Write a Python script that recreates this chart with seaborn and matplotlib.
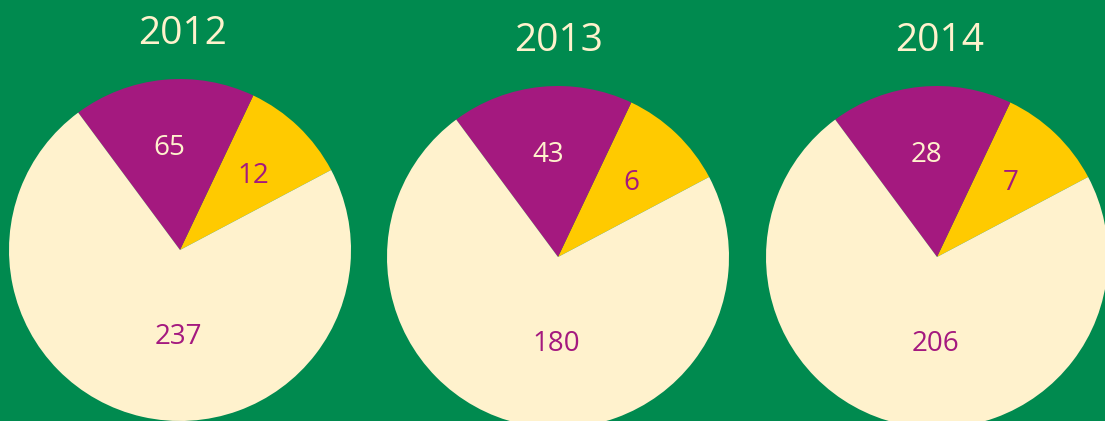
import matplotlib
matplotlib.use("Agg")
import matplotlib.pyplot as plt
import seaborn as sns

# Data
years = ["2012", "2013", "2014"]
yellow_counts = [12, 6, 7]
purple_counts = [65, 43, 28]
cream_counts = [237, 180, 206]
# wedge shares as drawn in the picture (same for every year)
wedge_shares = [10.2, 17.2, 72.6]

sns.set_theme(style="white")
plt.rcParams['font.family'] = ['Open Sans', 'DejaVu Sans']

green = "#008A4F"
purple = "#A4197F"
yellow = "#FFCA00"
cream = "#FFF2CD"
palette = sns.color_palette([yellow, purple, cream])

W, H = 1105, 421
fig = plt.figure(figsize=(W / 100, H / 100), dpi=100, facecolor=green)

# pie centres in pixels (from top-left), radius
centres = [(180, 250), (558, 257), (937, 257)]
title_pos = [(183, 34), (559, 41), (940, 41)]
R = 171

for i, year in enumerate(years):
    cx, cy = centres[i]
    ax = fig.add_axes([(cx - R) / W, (H - cy - R) / H, 2 * R / W, 2 * R / H])
    labels = [str(yellow_counts[i]), str(purple_counts[i]), str(cream_counts[i])]
    wedges, texts = ax.pie(wedge_shares, colors=palette, startangle=27.9,
                           labels=labels, labeldistance=0.62,
                           wedgeprops=dict(linewidth=0),
                           textprops=dict(fontsize=20, ha='center', va='center'))
    ax.set_xlim(-1, 1)
    ax.set_ylim(-1, 1)
    ax.patch.set_alpha(0)
    texts[0].set_color(purple)
    texts[1].set_color(cream)
    texts[2].set_color(purple)
    for t in texts:
        x, y = t.get_position()
        t.set_position((x, y - 0.018))
        t.set_horizontalalignment('center')
        t.set_verticalalignment('center')
    texts[2].set_position((-0.01, -0.51))
    tx, ty = title_pos[i]
    fig.text(tx / W, 1 - ty / H, year, color=cream, fontsize=28,
             ha='center', va='center')

fig.savefig("out.png", dpi=100, facecolor=green)
